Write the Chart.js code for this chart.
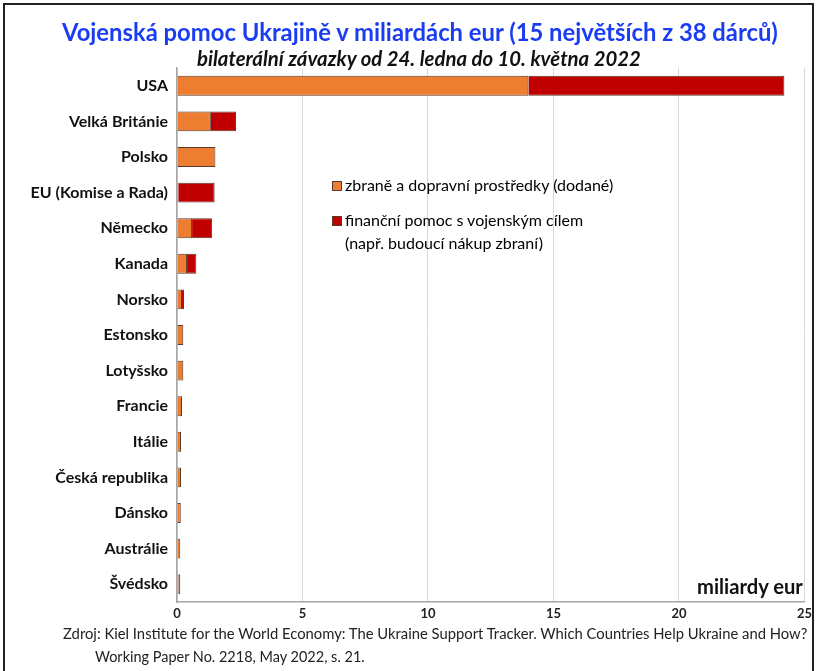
<!DOCTYPE html>
<html>
<head>
<meta charset="utf-8">
<script src="https://cdn.jsdelivr.net/npm/chart.js@4"></script>
<style>
  body { margin: 0; background: #fff; font-family: Lato, "Open Sans", sans-serif; }
  #page { position: relative; width: 816px; height: 671px; overflow: hidden; }
  #frame { position: absolute; left: 3px; top: 3px; width: 807px; height: 720px; border: 2px solid #222; }
  .txt { position: absolute; white-space: nowrap; line-height: 1; }
  #title { color: #1b3df2; font-weight: bold; font-size: 24px; }
  #subtitle { font-weight: bold; font-style: italic; font-size: 19px; color: #111; }
  .leg { font-size: 16px; color: #000; }
  .mark { position: absolute; width: 8px; height: 8px; border: 1px solid #5a3a2a; }
  #unit { font-weight: bold; font-size: 16px; color: #111; }
  .foot { font-size: 15px; color: #222; }
  canvas { position: absolute; left: 0; top: 0; }
</style>
</head>
<body>
<div id="page">
  <div id="frame"></div>
  <canvas id="chart" width="816" height="671"></canvas>
  <div class="txt" id="title" data-x="62" data-y="20" data-w="716">Vojenská pomoc Ukrajině v miliardách eur (15 největších z 38 dárců)</div>
  <div class="txt" id="subtitle" data-x="197" data-y="48" data-w="444">bilaterální závazky od 24. ledna do 10. května 2022</div>
  <div class="mark" style="left:332px;top:181px;background:#ed7d31"></div>
  <div class="txt leg" data-x="345" data-y="177">zbraně a dopravní prostředky (dodané)</div>
  <div class="mark" style="left:332px;top:216px;background:#c00000"></div>
  <div class="txt leg" data-x="345" data-y="212">finanční pomoc s vojenským cílem</div>
  <div class="txt leg" data-x="345" data-y="235">(např. budoucí nákup zbraní)</div>
  <div class="txt" id="unit" data-x="697" data-y="576" data-w="106">miliardy eur</div>
  <div class="txt foot" data-x="63" data-y="626" data-w="745">Zdroj: Kiel Institute for the World Economy: The Ukraine Support Tracker. Which Countries Help Ukraine and How?</div>
  <div class="txt foot" data-x="95" data-y="650" data-w="270">Working Paper No. 2218, May 2022, s. 21.</div>
</div>
<script>
// Donor countries, top 15
const countries = ['USA', 'Velká Británie', 'Polsko', 'EU (Komise a Rada)', 'Německo', 'Kanada', 'Norsko',
    'Estonsko', 'Lotyšsko', 'Francie', 'Itálie', 'Česká republika', 'Dánsko', 'Austrálie', 'Švédsko'];
// weapons and vehicles (delivered), bn EUR
const weapons = [14.0, 1.35, 1.53, 0.05, 0.6, 0.4, 0.2, 0.25, 0.25, 0.2, 0.16, 0.16, 0.15, 0.13, 0.06];
// financial aid with military purpose, bn EUR
const financial = [10.2, 1.0, 0, 1.45, 0.8, 0.37, 0.08, 0, 0, 0, 0, 0, 0, 0, 0.07];
const xTicks = [0, 5, 10, 15, 20, 25];

// place html texts, and scale the ones with a known width to fit the reference
document.querySelectorAll('.txt').forEach(el => {
    el.style.left = el.dataset.x + 'px';
    el.style.top = el.dataset.y + 'px';
    if (!el.dataset.w) return;
    const target = parseFloat(el.dataset.w);
    const size = parseFloat(getComputedStyle(el).fontSize);
    const w = el.getBoundingClientRect().width;
    el.style.fontSize = (size * target / w).toFixed(2) + 'px';
});

const ctx = document.getElementById('chart').getContext('2d');
new Chart(ctx, {
    type: 'bar',
    data: {
        labels: countries,
        datasets: [{
            label: 'zbraně a dopravní prostředky (dodané)',
            data: weapons,
            backgroundColor: '#ed7d31',
            borderColor: '#5a3a2a',
            borderWidth: 1
        }, {
            label: 'finanční pomoc s vojenským cílem',
            data: financial,
            backgroundColor: '#c00000',
            borderColor: '#5a3a2a',
            borderWidth: 1
        }]
    },
    options: {
        indexAxis: 'y',
        responsive: false,
        animation: false,
        layout: { padding: { left: 0, top: 68, right: 7, bottom: 39 } },
        datasets: { bar: { barPercentage: 0.56, categoryPercentage: 1 } },
        plugins: { legend: { display: false }, tooltip: { enabled: false } },
        scales: {
            x: {
                stacked: true,
                min: 0,
                max: 25,
                afterBuildTicks: s => { s.ticks = xTicks.map(v => ({ value: v })); },
                afterFit: s => { s.height = 30; },
                grid: { color: '#d9d9d9', drawTicks: false },
                border: { color: '#a6a6a6', width: 1.5 },
                ticks: { color: '#222', font: { family: 'Lato', weight: 'bold', size: 13 }, padding: 4 }
            },
            y: {
                stacked: true,
                afterFit: s => { s.width = 177; },
                grid: { display: false, drawTicks: false },
                border: { color: '#a6a6a6', width: 1.5 },
                ticks: { color: '#111', font: { family: 'Lato', weight: 'bold', size: 16 }, padding: 9 }
            }
        }
    }
});
</script>
</body>
</html>
